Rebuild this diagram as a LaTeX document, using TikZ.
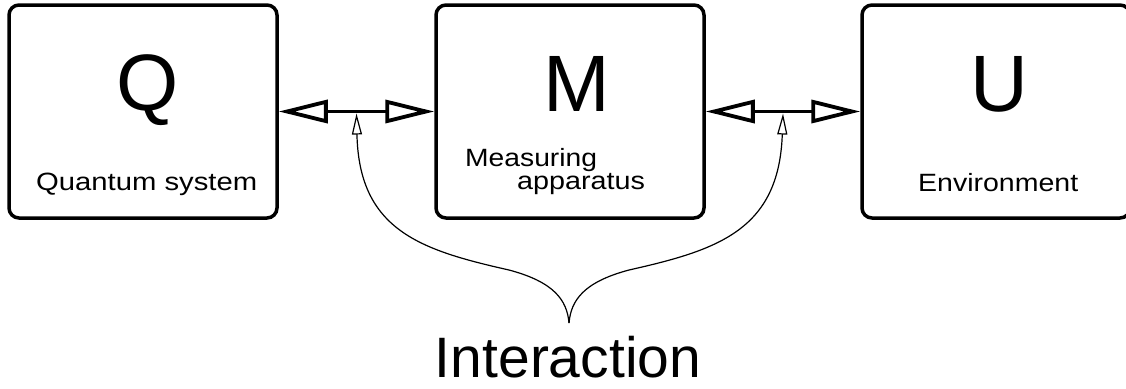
\documentclass[tikz,border=0pt]{standalone}
\usepackage{fontspec}
\setmainfont{Liberation Sans}
\usetikzlibrary{arrows.meta,calc}
\begin{document}
\begin{tikzpicture}[x=1pt,y=-1pt,
  box/.style={draw, line width=3.5pt, rounded corners=10pt, minimum width=268pt, minimum height=213pt, inner sep=0pt},
  big/.style={inner sep=0pt, anchor=base, font=\fontsize{80}{80}\selectfont},
  small/.style={inner sep=0pt, anchor=base west, font=\fontsize{25}{25}\selectfont},
  huge/.style={inner sep=0pt, anchor=base, font=\fontsize{57}{57}\selectfont},
  head/.tip={Triangle[open,length=49pt,width=23pt,line width=3.8pt]},
  dbl/.style={line width=3pt, head-head},
  lead/.style={line width=1.2pt, -{Triangle[open,length=21pt,width=10pt]}},
]
\useasboundingbox (0,0) rectangle (1126,388);
\node[box] (Q) at (143,111.5) {};
\node[box] (M) at (570,111.5) {};
\node[box] (U) at (996,111.5) {};
\node[big] (Ql) at (148,110) {Q};
\node[big] (Ml) at (577,111) {M};
\node[big] (Ul) at (999,111) {U};
\node[small] (qs) at (36,190) {\scalebox{1.17}[1]{Quantum system}};
\node[small] (ma1) at (465,166) {\scalebox{1.13}[1]{Measuring}};
\node[small] (ma2) at (517,189) {\scalebox{1.15}[1]{apparatus}};
\node[small] (env) at (918,191) {\scalebox{1.14}[1]{Environment}};
\node[huge] (int) at (568,377) {Interaction};
\draw[dbl] (Q.east) -- (M.west);
\draw[dbl] (M.east) -- (U.west);
\coordinate (j1) at ($(Q.east)!0.5!(M.west)+(0,2)$);
\coordinate (j2) at ($(M.east)!0.5!(U.west)+(0,2)$);
\coordinate (tip) at (569,323);
\draw[lead] (tip) .. controls (567,300) and (554,282) .. (509,270) .. controls (420,250) and (359,230) .. (j1);
\draw[lead] (tip) .. controls (571,300) and (584,282) .. (629,270) .. controls (718,250) and (779,230) .. (j2);
\end{tikzpicture}
\end{document}
